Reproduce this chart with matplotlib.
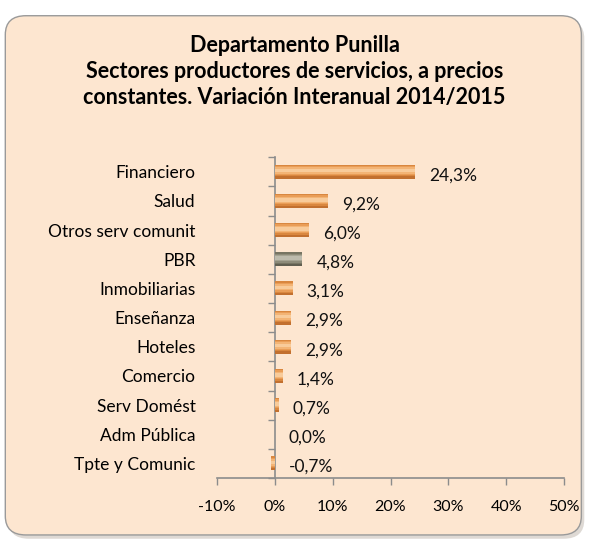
import matplotlib
matplotlib.use("Agg")
import matplotlib.pyplot as plt
from matplotlib.patches import FancyBboxPatch
from matplotlib.ticker import FixedLocator, FuncFormatter

# ── datos ──────────────────────────────────────────────────────────────
sectores = ["Financiero", "Salud", "Otros serv comunit", "PBR", "Inmobiliarias",
            "Enseñanza", "Hoteles", "Comercio", "Serv Domést", "Adm Pública",
            "Tpte y Comunic"]
variacion = [24.3, 9.2, 6.0, 4.8, 3.1, 2.9, 2.9, 1.4, 0.7, 0.0, -0.7]
etiquetas = ["24,3%", "9,2%", "6,0%", "4,8%", "3,1%", "2,9%", "2,9%",
             "1,4%", "0,7%", "0,0%", "-0,7%"]
x_ticks = [-10, 0, 10, 20, 30, 40, 50]

TITULO = ("Departamento Punilla\n"
          "Sectores productores de servicios, a precios\n"
          "constantes. Variación Interanual 2014/2015")

# capas del degradado "cilindro" (de borde a centro)
CAPAS_NARANJA = ["#C2702F", "#D9873F", "#E99D57", "#F3B475", "#F8CB9A"]
CAPAS_GRIS = ["#615F50", "#777563", "#8D8B79", "#A5A392", "#BDBBAD"]
ALTOS = [0.48, 0.40, 0.31, 0.22, 0.12]
FONDO = "#FDE6D0"
EJE = "#8C8C8C"

plt.rcParams["font.family"] = ["Lato", "DejaVu Sans"]

fig = plt.figure(figsize=(5.89, 5.42), dpi=100)
fig.patch.set_facecolor("white")

# marco redondeado con sombra
sombra = FancyBboxPatch((0.014, 0.006), 0.978, 0.958,
                        boxstyle="round,pad=0,rounding_size=0.035",
                        transform=fig.transFigure, fc="#C8C0B8", ec="none",
                        alpha=0.6, zorder=-2)
marco = FancyBboxPatch((0.009, 0.013), 0.978, 0.958,
                       boxstyle="round,pad=0,rounding_size=0.035",
                       transform=fig.transFigure, fc=FONDO, ec="#9A9A9A",
                       lw=1.0, zorder=-1)
fig.patches.extend([sombra, marco])

fig.text(0.5, 0.935, TITULO, ha="center", va="top", fontsize=15.5,
         fontweight="bold", linespacing=1.3, color="#000000")

ax = fig.add_axes([0.368, 0.118, 0.590, 0.592])
ax.set_facecolor("none")

pos = list(range(len(sectores)))

# barras con efecto 3D: capas concéntricas cada vez más claras
for i, h in enumerate(ALTOS):
    colores = [CAPAS_GRIS[i] if s == "PBR" else CAPAS_NARANJA[i] for s in sectores]
    desplaz = -0.04 * (i > 0)
    ax.barh([p + desplaz for p in pos], variacion, height=h, color=colores,
            linewidth=0, zorder=3 + i)

for p, v, t in zip(pos, variacion, etiquetas):
    ax.text(max(v, 0) + 2.4, p + 0.12, t, ha="left", va="center",
            fontsize=12.5, color="#111111", zorder=10)

ax.set_xlim(-10, 50)
ax.set_ylim(len(sectores) - 0.5, -0.5)

ax.xaxis.set_major_locator(FixedLocator(x_ticks))
ax.xaxis.set_major_formatter(FuncFormatter(lambda v, _: f"{v:.0f}%"))
ax.tick_params(axis="x", length=5, width=1, color=EJE, labelsize=11.5,
               pad=11, direction="out")

ax.set_yticks(pos)
ax.set_yticklabels(sectores)
ax.set_yticks([p + 0.5 for p in range(-1, len(sectores))], minor=True)
ax.tick_params(axis="y", which="major", length=0, labelsize=12.5, pad=57)
ax.tick_params(axis="y", which="minor", length=5, width=1, color=EJE,
               direction="out")

for s in ("top", "right"):
    ax.spines[s].set_visible(False)
ax.spines["left"].set_position(("data", 0))
ax.spines["left"].set_color(EJE)
ax.spines["bottom"].set_color(EJE)
ax.spines["left"].set_linewidth(1.2)
ax.spines["bottom"].set_linewidth(1.2)

fig.savefig("out.png", dpi=100)
